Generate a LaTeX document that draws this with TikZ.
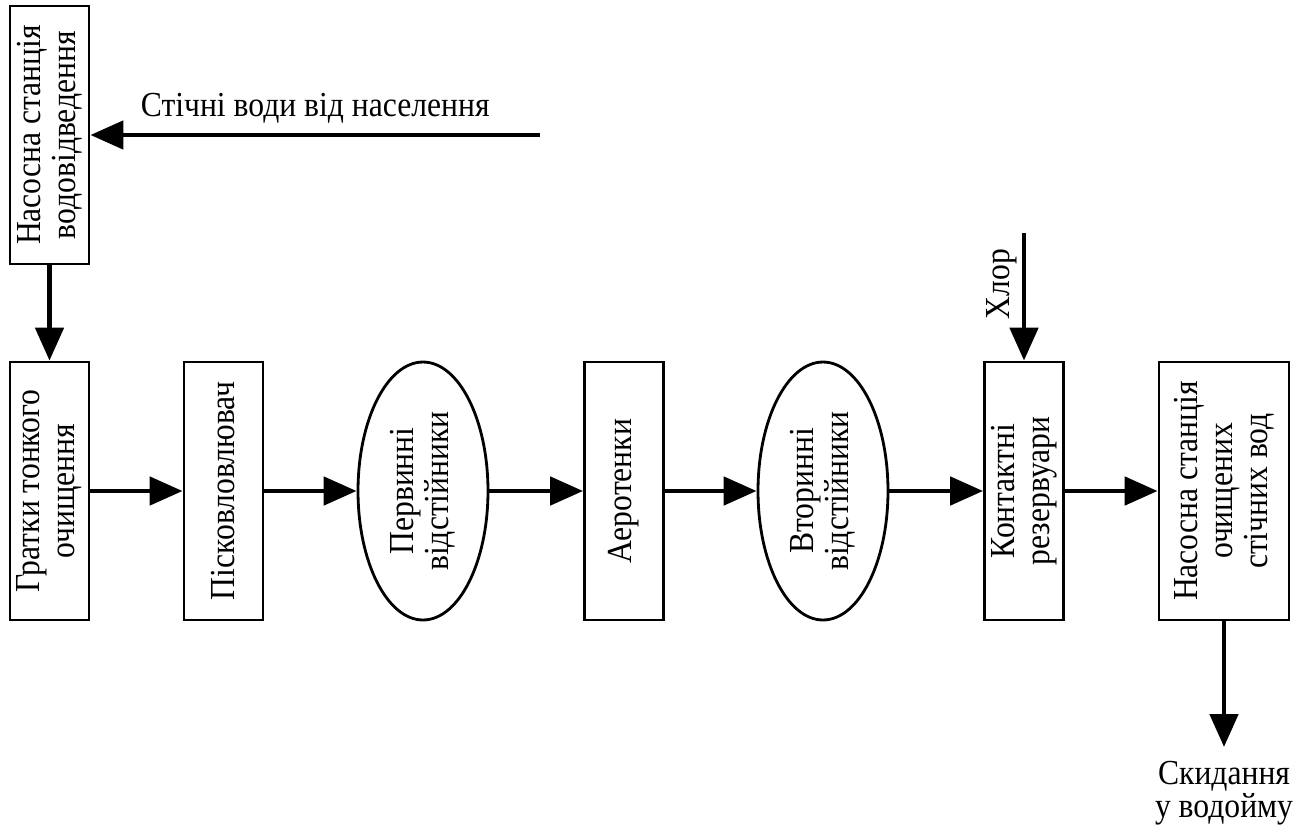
\documentclass[tikz,border=0pt]{standalone}
\usepackage{fontspec}
\setmainfont{Liberation Serif}[FakeStretch=0.9]
\usetikzlibrary{shapes.geometric,arrows.meta}

\begin{document}
\begin{tikzpicture}[x=0.02cm,y=-0.02cm,font=\fontsize{20}{20}\selectfont,
  unit/.style={draw,line width=1.6pt,rotate=90,align=center,inner sep=0pt,
    minimum width=5.16cm,minimum height=1.58cm},
  wideunit/.style={unit,minimum height=2.6cm},
  tank/.style={unit,ellipse,minimum height=2.6cm},
  flow/.style={line width=2.8pt,-{Triangle[length=6.6mm,width=5.6mm]}}]
\useasboundingbox (0,0) rectangle (1312,832);
% pumping station at the top
\node[unit] (pump) at (49.5,135) {Насосна станція\\водовідведення};
\coordinate (source) at (540,135);
\draw[flow] (source) -- node[above=0.6mm] {Стічні води від населення} (pump);
% treatment line
\node[unit] (grid) at (49.5,491) {Гратки тонкого\\очищення};
\node[unit] (sand) at (223.5,491) {Пісковловлювач};
\node[tank] (first) at (423,491) {Первинні\\відстійники};
\node[unit] (aero) at (624,491) {Аеротенки};
\node[tank] (second) at (823,491) {Вторинні\\відстійники};
\node[unit] (contact) at (1024,491) {Контактні\\резервуари};
\node[wideunit] (outpump) at (1224,491) {Насосна станція\\очищених\\стічних вод};
\draw[flow] (pump) -- (grid);
\draw[flow] (grid) -- (sand);
\draw[flow] (sand) -- (first);
\draw[flow] (first) -- (aero);
\draw[flow] (aero) -- (second);
\draw[flow] (second) -- (contact);
\draw[flow] (contact) -- (outpump);
% chlorine
\coordinate (chlorine) at (1024,233);
\draw[flow] (chlorine) -- node[pos=0.4,rotate=90,anchor=south,inner sep=2.5pt] {Хлор} (contact);
% outlet
\coordinate (outlet) at (1224,747);
\draw[flow] (outpump) -- (outlet);
\node[anchor=north,inner sep=0pt,yshift=-0.28cm,align=center,
  font=\fontsize{20}{17}\selectfont] (drop) at (outlet) {Скидання\\у водойму};
\end{tikzpicture}
\end{document}
